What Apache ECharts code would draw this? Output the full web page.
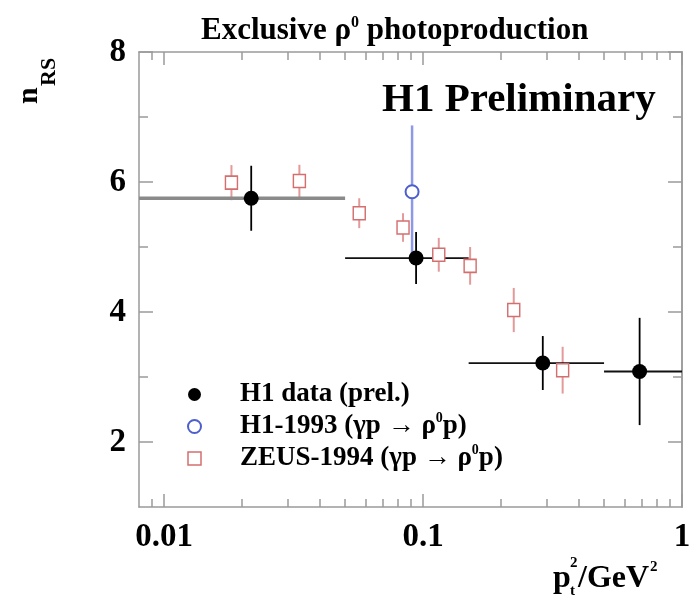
<!DOCTYPE html>
<html>
<head>
<meta charset="utf-8">
<script src="https://cdn.jsdelivr.net/npm/echarts@6/dist/echarts.min.js"></script>
<style>
  html, body { margin: 0; padding: 0; background: #ffffff; }
  #chart { width: 698px; height: 600px; }
</style>
</head>
<body>
<div id="chart"></div>
<script>
// H1 preliminary measurement: value, stat. error and p_t^2 bin edges
const h1X = [0.0217, 0.094, 0.29, 0.686];
const h1Y = [5.75, 4.83, 3.215, 3.085];
const h1Err = [0.50, 0.40, 0.415, 0.825];
const h1BinLo = [0.008, 0.05, 0.15, 0.5];
const h1BinHi = [0.05, 0.15, 0.5, 1.0];

// H1-1993 result
const h193X = [0.0907];
const h193Y = [5.85];
const h193Err = [1.02];

// ZEUS-1994 result
const zeusX = [0.0182, 0.0333, 0.0567, 0.0837, 0.115, 0.152, 0.224, 0.346];
const zeusY = [5.99, 6.015, 5.52, 5.30, 4.88, 4.71, 4.03, 3.105];
const zeusErr = [0.27, 0.25, 0.23, 0.22, 0.26, 0.29, 0.34, 0.36];

// Axis ticks and labels
const xMajorTicks = [0.01, 0.1, 1];
const xMinorTicks = [0.009, 0.02, 0.03, 0.04, 0.05, 0.06, 0.07, 0.08, 0.09,
                     0.2, 0.3, 0.4, 0.5, 0.6, 0.7, 0.8, 0.9];
const xTickLabels = ['0.01', '0.1', '1'];
const yMajorTicks = [2, 4, 6, 8];
const yMinorTicks = [3, 5, 7];
const yTickLabels = ['2', '4', '6', '8'];

const SERIF = '"Liberation Serif", "Times New Roman", serif';
const GRAY = '#9a9a9a';
const BLACK = '#000000';
const BLUE = '#4d5fcf';
const BLUE_BAR = '#8d98e6';
const PINK = '#d46f6f';
const PINK_BAR = '#e39a9a';

const NAME_H1 = 'H1 data (prel.)';
const NAME_H193 = 'H1-1993 (γp → ρ0p)';
const NAME_ZEUS = 'ZEUS-1994 (γp → ρ0p)';

const h1Rows = h1X.map((x, i) => [x, h1Y[i], h1Err[i], h1BinLo[i], h1BinHi[i]]);
const h193Rows = h193X.map((x, i) => [x, h193Y[i], h193Err[i]]);
const zeusRows = zeusX.map((x, i) => [x, zeusY[i], zeusErr[i]]);

function labelFor(values, labels) {
  return function (v) {
    let best = 0;
    for (let i = 1; i < values.length; i++) {
      if (Math.abs(Math.log(values[i] / v)) < Math.abs(Math.log(values[best] / v))) best = i;
    }
    return labels[best];
  };
}

const tickLabelStyle = {
  fontFamily: SERIF, fontWeight: 'bold', fontSize: 33, color: '#000'
};

function xAxisDef(position, ticks, len, withLabels) {
  return {
    type: 'log', logBase: 10, min: 0.008, max: 1, position: position,
    axisLine: { show: withLabels, onZero: false, lineStyle: { color: GRAY, width: 1.5 } },
    axisTick: { show: true, inside: true, length: len, customValues: ticks,
                lineStyle: { color: GRAY, width: 1.5 } },
    axisLabel: withLabels
      ? Object.assign({ show: true, margin: 14, customValues: xMajorTicks,
          formatter: labelFor(xMajorTicks, xTickLabels) }, tickLabelStyle)
      : { show: false },
    splitLine: { show: false }, minorTick: { show: false }
  };
}

function yAxisDef(position, ticks, len, withLabels) {
  return {
    type: 'value', min: 1, max: 8, interval: 1, position: position,
    axisLine: { show: withLabels || position === 'right', onZero: false,
                lineStyle: { color: GRAY, width: 1.5 } },
    axisTick: { show: true, inside: true, length: len, customValues: ticks,
                lineStyle: { color: GRAY, width: 1.5 } },
    axisLabel: withLabels
      ? Object.assign({ show: true, margin: 13, customValues: yMajorTicks,
          formatter: v => yTickLabels[yMajorTicks.indexOf(Math.round(v))] }, tickLabelStyle)
      : { show: false },
    splitLine: { show: false }
  };
}

// Error bars: vertical stat. error, optional horizontal bin width
function errorBars(vColor, vWidth, hStyleFor) {
  return function (params, api) {
    const x = api.value(0), y = api.value(1), e = api.value(2);
    const top = api.coord([x, y + e]);
    const bot = api.coord([x, y - e]);
    const children = [{
      type: 'line',
      shape: { x1: top[0], y1: top[1], x2: bot[0], y2: bot[1] },
      style: { stroke: vColor, lineWidth: vWidth }
    }];
    if (hStyleFor) {
      const l = api.coord([api.value(3), y]);
      const r = api.coord([api.value(4), y]);
      children.push({
        type: 'line',
        shape: { x1: l[0], y1: l[1], x2: r[0], y2: r[1] },
        style: hStyleFor(params.dataIndex)
      });
    }
    return { type: 'group', children: children };
  };
}

const supStyle = { fontFamily: SERIF, fontWeight: 'bold', fontSize: 14, verticalAlign: 'top', padding: [0, 0, 8, 0] };

const chart = echarts.init(document.getElementById('chart'), null, { renderer: 'canvas' });

chart.setOption({
  animation: false,
  backgroundColor: '#ffffff',
  grid: { left: 139, top: 52, right: 16, bottom: 93, containLabel: false },
  title: [
    {
      text: 'Exclusive ρ{sup|0} photoproduction', left: 196, top: 10,
      textStyle: {
        fontFamily: SERIF, fontWeight: 'bold', fontSize: 31, color: '#000',
        rich: { sup: { fontFamily: SERIF, fontWeight: 'bold', fontSize: 16, verticalAlign: 'top', padding: [0, 0, 12, 0] } }
      }
    },
    {
      text: 'H1 Preliminary', left: 377, top: 75,
      textStyle: { fontFamily: SERIF, fontWeight: 'bold', fontSize: 41, color: '#000' }
    }
  ],
  legend: {
    orient: 'vertical', left: 182, top: 374, itemGap: 1,
    itemWidth: 13, itemHeight: 13,
    textStyle: {
      fontFamily: SERIF, fontWeight: 'bold', fontSize: 27, color: '#000',
      lineHeight: 31, padding: [0, 0, 0, 34],
      rich: { sup: supStyle }
    },
    formatter: name => name.replace('ρ0', 'ρ{sup|0}'),
    data: [
      { name: NAME_H1, icon: 'circle', itemStyle: { color: BLACK } },
      { name: NAME_H193, icon: 'circle', itemStyle: { color: '#fff', borderColor: BLUE, borderWidth: 2 } },
      { name: NAME_ZEUS, icon: 'rect', itemStyle: { color: '#fff', borderColor: PINK, borderWidth: 1.5 } }
    ]
  },
  xAxis: [
    xAxisDef('bottom', xMajorTicks, 13, true),
    xAxisDef('bottom', xMinorTicks, 8, false),
    Object.assign(xAxisDef('top', xMajorTicks, 13, false), { axisLine: { show: true, onZero: false, lineStyle: { color: GRAY, width: 1.5 } } }),
    xAxisDef('top', xMinorTicks, 8, false)
  ],
  yAxis: [
    yAxisDef('left', yMajorTicks, 14, true),
    yAxisDef('left', yMinorTicks, 9, false),
    yAxisDef('right', yMajorTicks, 14, false),
    yAxisDef('right', yMinorTicks, 9, false)
  ],
  graphic: [
    // y-axis title n_RS, rotated
    {
      type: 'group', x: 38, y: 104, rotation: Math.PI / 2, silent: true,
      children: [
        { type: 'text', style: { text: 'n', x: 0, y: 0, fontFamily: SERIF, fontWeight: 'bold', fontSize: 30, fill: '#000', align: 'left', verticalAlign: 'bottom' }, position: [0, 6] },
        { type: 'text', style: { text: 'RS', x: 18, y: 0, fontFamily: SERIF, fontWeight: 'bold', fontSize: 22, fill: '#000', align: 'left', verticalAlign: 'bottom' }, position: [0, 22] }
      ]
    },
    // x-axis title p_t^2/GeV^2
    {
      type: 'group', x: 0, y: 0, silent: true,
      children: [
        { type: 'text', style: { text: 'p', x: 553, y: 595, fontFamily: SERIF, fontWeight: 'bold', fontSize: 32, fill: '#000', verticalAlign: 'bottom' } },
        { type: 'text', style: { text: 't', x: 570, y: 599, fontFamily: SERIF, fontWeight: 'bold', fontSize: 15, fill: '#000', verticalAlign: 'bottom' } },
        { type: 'text', style: { text: '2', x: 570, y: 571, fontFamily: SERIF, fontWeight: 'bold', fontSize: 15, fill: '#000', verticalAlign: 'bottom' } },
        { type: 'text', style: { text: '/GeV', x: 578, y: 595, fontFamily: SERIF, fontWeight: 'bold', fontSize: 32, fill: '#000', verticalAlign: 'bottom' } },
        { type: 'text', style: { text: '2', x: 650, y: 575, fontFamily: SERIF, fontWeight: 'bold', fontSize: 15, fill: '#000', verticalAlign: 'bottom' } }
      ]
    }
  ],
  series: [
    {
      name: 'ZEUS-1994 errors', type: 'custom', z: 2, clip: true,
      xAxisIndex: 0, yAxisIndex: 0,
      renderItem: errorBars(PINK_BAR, 2, null),
      encode: { x: 0, y: 1 },
      data: zeusRows
    },
    {
      name: 'H1-1993 errors', type: 'custom', z: 2, clip: true,
      xAxisIndex: 0, yAxisIndex: 0,
      renderItem: errorBars(BLUE_BAR, 2.5, null),
      encode: { x: 0, y: 1 },
      data: h193Rows
    },
    {
      name: 'H1 errors', type: 'custom', z: 3, clip: true,
      xAxisIndex: 0, yAxisIndex: 0,
      renderItem: errorBars(BLACK, 1.8, i => (i === 0
        ? { stroke: '#8a8a8a', lineWidth: 3.5 }
        : { stroke: '#111', lineWidth: 1.8 })),
      encode: { x: 0, y: 1 },
      data: h1Rows
    },
    {
      name: NAME_ZEUS, type: 'scatter', z: 4,
      symbol: 'rect', symbolSize: [12, 13],
      itemStyle: { color: '#fff', borderColor: PINK, borderWidth: 1.5, opacity: 1 },
      data: zeusRows.map(r => [r[0], r[1]])
    },
    {
      name: NAME_H193, type: 'scatter', z: 4,
      symbol: 'circle', symbolSize: 13,
      itemStyle: { color: '#fff', borderColor: BLUE, borderWidth: 2, opacity: 1 },
      data: h193Rows.map(r => [r[0], r[1]])
    },
    {
      name: NAME_H1, type: 'scatter', z: 5,
      symbol: 'circle', symbolSize: 15,
      itemStyle: { color: BLACK, opacity: 1 },
      data: h1Rows.map(r => [r[0], r[1]])
    }
  ]
});
</script>
</body>
</html>
